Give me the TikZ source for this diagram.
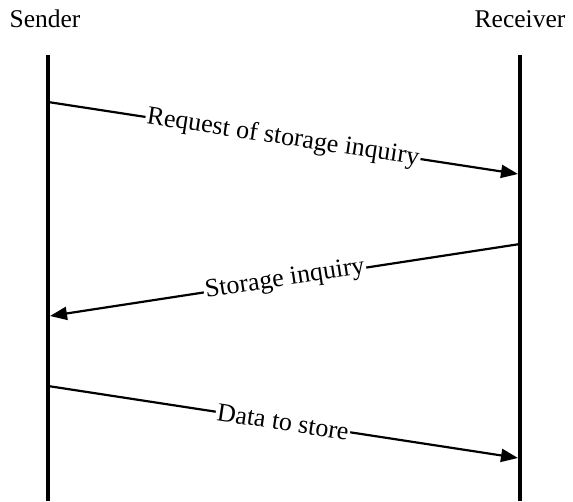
\documentclass[tikz,border=0pt]{standalone}
\usepackage{fontspec}
\setmainfont{Liberation Serif}
\usetikzlibrary{arrows.meta}
\begin{document}
\begin{tikzpicture}[x=1pt,y=-1pt,
  party/.style={font=\fontsize{25.5}{30}\selectfont, inner sep=0pt},
  lifeline/.style={line width=4.5pt},
  msg/.style={line width=2.2pt, -{Triangle[length=17pt,width=13pt]}},
  msglabel/.style={font=\fontsize{26}{30}\selectfont, fill=white, inner sep=1.5pt, sloped, midway}]
  \useasboundingbox (0,0) rectangle (573,501);

  % participants
  \node[party] (sender) at (45,19) {Sender};
  \node[party] (receiver) at (520,19) {Receiver};

  % lifelines
  \coordinate (sTop) at (48,55);
  \coordinate (sBot) at (48,501);
  \coordinate (rTop) at (520,55);
  \coordinate (rBot) at (520,501);
  \draw[lifeline] (sTop) -- (sBot);
  \draw[lifeline] (rTop) -- (rBot);

  % message end points
  \coordinate (m1a) at (48,102);
  \coordinate (m1b) at (518,174);
  \coordinate (m2a) at (520,244);
  \coordinate (m2b) at (50,316);
  \coordinate (m3a) at (48,386);
  \coordinate (m3b) at (518,458);

  % messages
  \draw[msg] (m1a) -- node[msglabel] (l1) {Request of storage inquiry} (m1b);
  \draw[msg] (m2a) -- node[msglabel] (l2) {Storage inquiry} (m2b);
  \draw[msg] (m3a) -- node[msglabel] (l3) {Data to store} (m3b);
\end{tikzpicture}
\end{document}
